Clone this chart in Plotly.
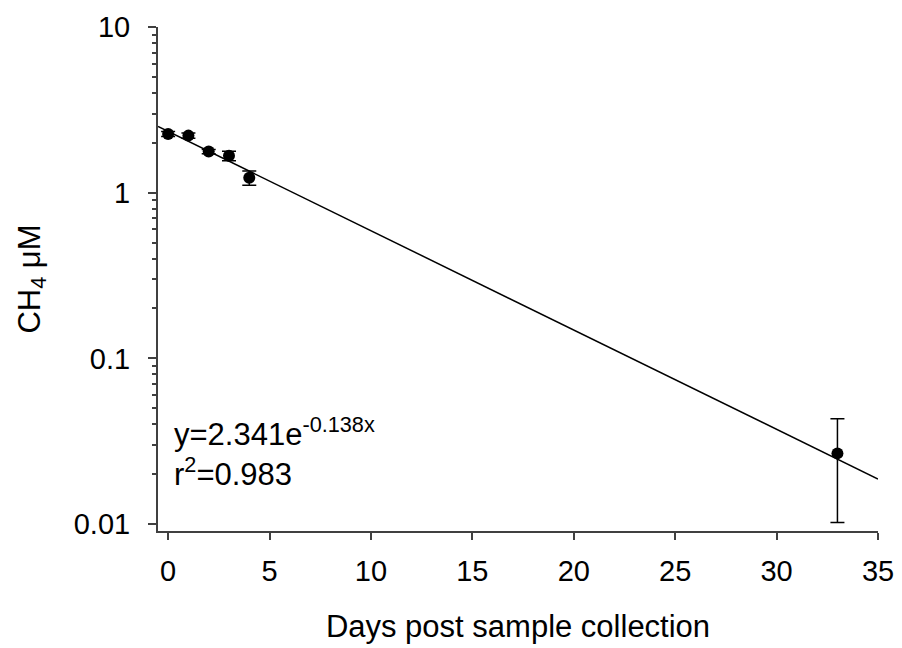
import plotly.graph_objects as go

# measured CH4 concentrations (uM) vs days post sample collection
days = [0, 1, 2, 3, 4, 33]
ch4 = [2.26, 2.21, 1.77, 1.67, 1.23, 0.0267]
ch4_err = [0.08, 0.08, 0.05, 0.11, 0.12, 0.0165]

# exponential fit y = 2.341 e^(-0.138x), straight on the log axis
fit_x = [-0.5, 35]
fit_y = [2.51, 0.0187]

y_ticks = [0.01, 0.1, 1, 10]
y_tick_text = ["0.01", "0.1", "1", "10"]
y_minor = [0.02, 0.03, 0.04, 0.05, 0.06, 0.07, 0.08, 0.09,
           0.2, 0.3, 0.4, 0.5, 0.6, 0.7, 0.8, 0.9,
           2, 3, 4, 5, 6, 7, 8, 9]

font = "Liberation Sans, Arial, sans-serif"
axis_col = "#404040"

fig = go.Figure()
fig.add_trace(go.Scatter(x=fit_x, y=fit_y, mode="lines",
                         line=dict(color="black", width=1.5),
                         showlegend=False, hoverinfo="skip"))
fig.add_trace(go.Scatter(x=days, y=ch4, mode="markers",
                         marker=dict(color="black", size=12),
                         error_y=dict(type="data", array=ch4_err, color="black",
                                      thickness=1.5, width=7),
                         showlegend=False))

# annotation y is a log10 value on a log axis
fig.add_annotation(x=0.2, y=-1.565, xref="x", yref="y", yanchor="middle",
                   xanchor="left", align="left", showarrow=False,
                   text="y=2.341e<sup>-0.138x</sup><br>r<sup>2</sup>=0.983",
                   font=dict(size=31, color="black", family=font))

fig.update_layout(
    width=902, height=648,
    margin=dict(l=158, r=24, t=27, b=117),
    plot_bgcolor="white", paper_bgcolor="white",
    font=dict(family=font, size=29, color="black"),
)
fig.update_xaxes(range=[-0.5, 35], tickvals=[0, 5, 10, 15, 20, 25, 30, 35],
                 automargin=False, tickfont=dict(size=29), ticklabelstandoff=6,
                 showgrid=False, zeroline=False, showline=True,
                 linecolor=axis_col, linewidth=2, ticks="outside",
                 ticklen=7, tickwidth=1.5, tickcolor=axis_col,
                 title=dict(text="Days post sample collection", standoff=30,
                            font=dict(size=31)))
fig.update_yaxes(type="log", range=[-2.042, 1], tickvals=y_ticks,
                 ticktext=y_tick_text, automargin=False, tickfont=dict(size=29),
                 ticklabelstandoff=12,
                 showgrid=False, zeroline=False,
                 showline=True, linecolor=axis_col, linewidth=2,
                 ticks="outside", ticklen=8, tickwidth=1.5, tickcolor=axis_col,
                 minor=dict(tickmode="array", tickvals=y_minor, ticks="outside",
                            ticklen=4, tickwidth=1.5, tickcolor=axis_col,
                            showgrid=False),
                 title=dict(text="CH<sub>4</sub> μM", standoff=24,
                            font=dict(size=31)))

fig.write_html("out.html", config={"displayModeBar": False},
               post_script="document.body.style.margin='0';")
